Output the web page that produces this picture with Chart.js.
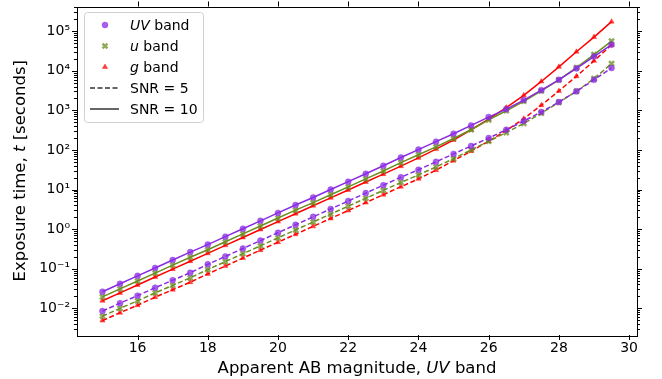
<!DOCTYPE html>
<html>
<head>
<meta charset="utf-8">
<script src="https://cdn.jsdelivr.net/npm/chart.js@4.4.0/dist/chart.umd.min.js"></script>
<style>
    html, body { margin: 0; padding: 0; background: #fff; }
    #wrap { width: 662px; height: 379px; position: relative; }
</style>
</head>
<body>
<div id="wrap"><canvas id="myCanvas"></canvas></div>
<script>
// apparent AB magnitude in the UV band
var magnitudes = [15, 15.5, 16, 16.5, 17, 17.5, 18, 18.5, 19, 19.5, 20, 20.5, 21, 21.5, 22,
    22.5, 23, 23.5, 24, 24.5, 25, 25.5, 26, 26.5, 27, 27.5, 28, 28.5, 29, 29.5];

// exposure times in seconds, SNR = 10
var uvSnr10 = [0.0263, 0.0417, 0.0661, 0.1047, 0.166, 0.263, 0.407, 0.646, 1.023, 1.622, 2.57, 4.07,
    6.31, 10.0, 15.8, 25.1, 39.8, 64.6, 102, 162, 257, 417, 676, 1072, 1820, 3236, 5888, 11480, 22900, 45700];
var uSnr10 = [0.0195, 0.0309, 0.049, 0.0776, 0.123, 0.195, 0.302, 0.479, 0.759, 1.20, 1.905, 3.02,
    4.68, 7.41, 11.7, 18.6, 29.5, 47.9, 75.9, 120, 195, 324, 575, 977, 1698, 3090, 5888, 12020, 25700, 56200];
var gSnr10 = [0.0155, 0.0245, 0.0389, 0.0617, 0.0977, 0.155, 0.245, 0.389, 0.617, 0.977, 1.549, 2.455,
    3.89, 6.17, 9.77, 15.5, 24.5, 38.9, 63.1, 105, 178, 324, 603, 1175, 2399, 5370, 12590, 30200, 70800, 173800];

// exposure times in seconds, SNR = 5
var uvSnr5 = [0.00851, 0.0135, 0.0209, 0.0331, 0.0513, 0.0794, 0.129, 0.204, 0.324, 0.513, 0.813, 1.288,
    2.042, 3.236, 5.13, 8.13, 12.9, 20.4, 31.6, 50.1, 79.4, 126, 200, 324, 537, 912, 1622, 3020, 5888, 11750];
var uSnr5 = [0.00631, 0.01, 0.0155, 0.0245, 0.038, 0.0589, 0.0955, 0.151, 0.24, 0.38, 0.603, 0.955,
    1.514, 2.399, 3.80, 6.03, 9.55, 15.1, 23.4, 37.2, 60.3, 100, 166, 275, 468, 851, 1585, 3020, 6310, 15140];
var gSnr5 = [0.0049, 0.00776, 0.012, 0.0191, 0.0295, 0.0457, 0.0741, 0.117, 0.186, 0.295, 0.468, 0.741,
    1.175, 1.862, 2.951, 4.677, 7.413, 11.75, 18.6, 30.9, 53.7, 93.3, 166, 309, 617, 1349, 3090, 7244, 17780, 44700];

var xTicks = [16, 18, 20, 22, 24, 26, 28, 30];
var yTicks = [1e-2, 1e-1, 1e0, 1e1, 1e2, 1e3, 1e4, 1e5];
var yTickLabels = ['10\u207B\u00B2', '10\u207B\u00B9', '10\u2070', '10\u00B9', '10\u00B2', '10\u00B3', '10\u2074', '10\u2075'];

var FONT = '"DejaVu Sans", sans-serif';
var PURPLE = '#8a2be2', OLIVE = '#6b8e23', RED = '#ff0000';
var PURPLE_PT = 'rgba(138,43,226,0.75)', OLIVE_PT = 'rgba(107,142,35,0.75)', RED_PT = 'rgba(255,0,0,0.75)';

function MakeSet(label, values, color, ptColor, style, dashed) {
    var cross = style === 'crossRot';
    return {
        label: label,
        data: magnitudes.map(function (m, i) { return { x: m, y: values[i] }; }),
        borderColor: color,
        backgroundColor: ptColor,
        borderWidth: 1.5,
        borderDash: dashed ? [5, 2.5] : [],
        pointStyle: style,
        pointRadius: cross ? 3.5 : 3,
        pointBorderWidth: cross ? 2.5 : 0.5,
        pointBorderColor: ptColor,
        pointBackgroundColor: ptColor,
        tension: 0,
        fill: false
    };
}

// mixed upright / italic text on the canvas
function DrawRich(ctx, parts, x, y, size, centered) {
    var total = 0;
    parts.forEach(function (p) {
        ctx.font = (p[1] ? 'italic ' : '') + size + 'px ' + FONT;
        total += ctx.measureText(p[0]).width;
    });
    var cx = centered ? x - total / 2 : x;
    parts.forEach(function (p) {
        ctx.font = (p[1] ? 'italic ' : '') + size + 'px ' + FONT;
        ctx.fillText(p[0], cx, y);
        cx += ctx.measureText(p[0]).width;
    });
}

var framePlugin = {
    id: 'frame',
    afterDraw: function (chart) {
        var ctx = chart.ctx, a = chart.chartArea;
        var xs = chart.scales.x, ys = chart.scales.y;
        ctx.save();
        ctx.strokeStyle = '#000';
        ctx.lineWidth = 1;
        ctx.setLineDash([]);
        ctx.beginPath();
        xTicks.forEach(function (v) {
            var px = Math.round(xs.getPixelForValue(v)) + 0.5;
            ctx.moveTo(px, a.bottom); ctx.lineTo(px, a.bottom + 5);
            ctx.moveTo(px, a.top); ctx.lineTo(px, a.top - 5);
        });
        for (var e = -3; e <= 5; e++) {
            for (var k = 1; k <= 9; k++) {
                var v = k * Math.pow(10, e);
                if (v < ys.min || v > ys.max) continue;
                var len = k === 1 ? 5 : 3;
                var py = Math.round(ys.getPixelForValue(v)) + 0.5;
                ctx.moveTo(a.left, py); ctx.lineTo(a.left - len, py);
                ctx.moveTo(a.right, py); ctx.lineTo(a.right + len, py);
            }
        }
        ctx.stroke();
        ctx.strokeRect(Math.round(a.left) + 0.5, Math.round(a.top) + 0.5,
            Math.round(a.right - a.left), Math.round(a.bottom - a.top));

        // axis titles
        ctx.fillStyle = '#000';
        ctx.textBaseline = 'alphabetic';
        DrawRich(ctx, [['Apparent AB magnitude, ', false], ['UV', true], [' band', false]],
            (a.left + a.right) / 2, 373, 16.5, true);
        ctx.translate(25, (a.top + a.bottom) / 2);
        ctx.rotate(-Math.PI / 2);
        DrawRich(ctx, [['Exposure time, ', false], ['t', true], [' [seconds]', false]], 0, 0, 16.5, true);
        ctx.restore();

        DrawLegend(ctx);
    }
};

function DrawLegend(ctx) {
    ctx.save();
    var bx = 84.5, by = 12.5, bw = 119, bh = 110, r = 3;
    ctx.beginPath();
    ctx.moveTo(bx + r, by);
    ctx.arcTo(bx + bw, by, bx + bw, by + bh, r);
    ctx.arcTo(bx + bw, by + bh, bx, by + bh, r);
    ctx.arcTo(bx, by + bh, bx, by, r);
    ctx.arcTo(bx, by, bx + bw, by, r);
    ctx.closePath();
    ctx.fillStyle = 'rgba(255,255,255,0.8)';
    ctx.fill();
    ctx.strokeStyle = '#d0d0d0';
    ctx.lineWidth = 1;
    ctx.stroke();

    var rows = [
        { parts: [['UV', true], [' band', false]], style: 'circle', color: PURPLE_PT },
        { parts: [['u', true], [' band', false]], style: 'crossRot', color: OLIVE_PT },
        { parts: [['g', true], [' band', false]], style: 'triangle', color: RED_PT },
        { parts: [['SNR = 5', false]], dash: [5, 2.5] },
        { parts: [['SNR = 10', false]], dash: [] }
    ];
    var ys = [25, 46, 67, 88, 109];
    rows.forEach(function (row, i) {
        var y = ys[i];
        if (row.style) {
            ctx.fillStyle = row.color;
            ctx.strokeStyle = row.color;
            ctx.lineWidth = row.style === 'crossRot' ? 2.5 : 0.5;
            Chart.helpers.drawPoint(ctx, {
                pointStyle: row.style, radius: row.style === 'crossRot' ? 3.5 : 3,
                borderWidth: row.style === 'crossRot' ? 2.5 : 0.5, rotation: 0
            }, 105, y);
        } else {
            ctx.strokeStyle = '#333';
            ctx.lineWidth = 1.5;
            ctx.setLineDash(row.dash);
            ctx.beginPath();
            ctx.moveTo(90, y); ctx.lineTo(119, y);
            ctx.stroke();
            ctx.setLineDash([]);
        }
        ctx.fillStyle = '#000';
        ctx.textBaseline = 'middle';
        DrawRich(ctx, row.parts, 130, y + 1, 14, false);
    });
    ctx.restore();
}

var ctx = document.getElementById('myCanvas').getContext('2d');
var myChart = new Chart(ctx, {
    type: 'line',
    data: {
        datasets: [
            MakeSet('UV SNR=10', uvSnr10, PURPLE, PURPLE_PT, 'circle', false),
            MakeSet('UV SNR=5', uvSnr5, PURPLE, PURPLE_PT, 'circle', true),
            MakeSet('u SNR=10', uSnr10, OLIVE, OLIVE_PT, 'crossRot', false),
            MakeSet('u SNR=5', uSnr5, OLIVE, OLIVE_PT, 'crossRot', true),
            MakeSet('g SNR=10', gSnr10, RED, RED_PT, 'triangle', false),
            MakeSet('g SNR=5', gSnr5, RED, RED_PT, 'triangle', true)
        ]
    },
    options: {
        responsive: true,
        maintainAspectRatio: false,
        animation: false,
        devicePixelRatio: 1,
        layout: { padding: { top: 6, right: 25, left: 0, bottom: 0 } },
        plugins: { legend: { display: false }, tooltip: { enabled: false } },
        scales: {
            x: {
                type: 'linear',
                min: 14.275,
                max: 30.225,
                grid: { display: false, drawTicks: false },
                border: { display: false },
                afterBuildTicks: function (scale) {
                    scale.ticks = xTicks.map(function (v) { return { value: v }; });
                },
                afterFit: function (scale) {
                    scale.height = 44;
                    scale.paddingLeft = 0;
                    scale.paddingRight = 0;
                },
                ticks: {
                    padding: 5,
                    color: '#000',
                    maxRotation: 0,
                    autoSkip: false,
                    font: { family: FONT, size: 14 },
                    callback: function (v) { return String(v); }
                }
            },
            y: {
                type: 'logarithmic',
                min: 0.00212,
                max: 419800,
                grid: { display: false, drawTicks: false },
                border: { display: false },
                afterBuildTicks: function (scale) {
                    scale.ticks = yTicks.map(function (v) { return { value: v }; });
                },
                afterFit: function (scale) {
                    scale.width = 77;
                    scale.paddingTop = 0;
                    scale.paddingBottom = 0;
                },
                ticks: {
                    padding: 7,
                    color: '#000',
                    autoSkip: false,
                    font: { family: FONT, size: 14 },
                    callback: function (v) {
                        var i = yTicks.indexOf(v);
                        return i >= 0 ? yTickLabels[i] : '';
                    }
                }
            }
        }
    },
    plugins: [framePlugin]
});
</script>
</body>
</html>
